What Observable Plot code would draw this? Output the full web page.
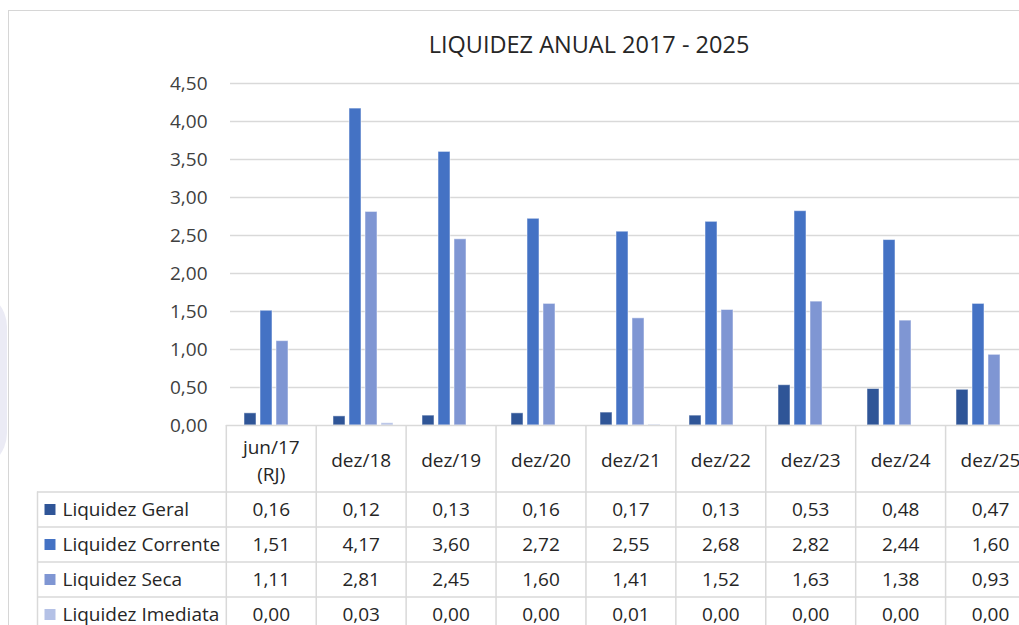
<!DOCTYPE html>
<html><head><meta charset="utf-8">
<script src="https://cdn.jsdelivr.net/npm/d3@7"></script>
<script src="https://cdn.jsdelivr.net/npm/@observablehq/plot@0.6"></script>
<style>
html,body{margin:0;padding:0;background:#fff;overflow:hidden;width:1019px;height:625px;}
body{position:relative;font-family:"Open Sans",sans-serif;}
#deco{position:absolute;left:-30px;top:290px;width:37px;height:180px;border-radius:0 40px 40px 0;background:#ebebf5;}
#frame{position:absolute;left:8px;top:10px;width:1100px;height:700px;border-left:1.5px solid #d6d6d6;border-top:1.5px solid #d6d6d6;}
#title{position:absolute;top:28px;left:0;width:1178px;text-align:center;font-size:23.5px;color:#262626;white-space:nowrap;}
#bars{position:absolute;left:0;top:0;}
#table{position:absolute;left:0;top:425px;}
svg{display:block;overflow:visible;max-width:none !important;}
</style></head><body>
<div id="deco"></div>
<div id="frame"></div>
<div id="title">LIQUIDEZ ANUAL 2017 - 2025</div>
<div id="bars"></div>
<div id="table"></div>
<script>
// ---- data ----
const categories = ["jun/17\n(RJ)","dez/18","dez/19","dez/20","dez/21","dez/22","dez/23","dez/24","dez/25"];
const seriesNames = ["Liquidez Geral","Liquidez Corrente","Liquidez Seca","Liquidez Imediata"];
const liquidezGeral     = [0.16,0.12,0.13,0.16,0.17,0.13,0.53,0.48,0.47];
const liquidezCorrente  = [1.51,4.17,3.60,2.72,2.55,2.68,2.82,2.44,1.60];
const liquidezSeca      = [1.11,2.81,2.45,1.60,1.41,1.52,1.63,1.38,0.93];
const liquidezImediata  = [0.00,0.03,0.00,0.00,0.01,0.00,0.00,0.00,0.00];
const yTicks = [0,0.5,1,1.5,2,2.5,3,3.5,4,4.5];
const seriesColors = ["#2f5597","#4472c4","#7f96d3","#b4c1e6"];

const seriesValues = [liquidezGeral, liquidezCorrente, liquidezSeca, liquidezImediata];
const rows = [];
seriesValues.forEach((vals, si) => vals.forEach((v, ci) =>
  rows.push({category: categories[ci], ci, series: seriesNames[si], si, value: v})));

const fmt = d => d.toFixed(2).replace(".", ",");
const W = 1040, ML = 226, MR = 5;
const gridColor = "#d9d9d9";

// ---- bar chart ----
const bars = Plot.plot({
  width: W, height: 425, marginTop: 83, marginBottom: 0, marginLeft: ML, marginRight: MR,
  style: {fontFamily: "Open Sans", fontSize: "19px", color: "#404040", background: "transparent", overflow: "visible", maxWidth: "none"},
  fx: {domain: categories, padding: 0, axis: null},
  x: {domain: seriesNames, paddingInner: 0.23, paddingOuter: 0.825, axis: null},
  y: {domain: [0, 4.5], axis: null},
  color: {domain: seriesNames, range: seriesColors},
  marks: [
    Plot.gridY(yTicks.filter(d => d > 0), {stroke: gridColor, strokeOpacity: 1, strokeWidth: 1.5}),
    Plot.axisY(yTicks, {tickSize: 0, tickPadding: 23, tickFormat: fmt, fontSize: 19, fill: "#404040", label: null}),
    Plot.barY(rows, {fx: "category", x: "series", y: "value", fill: "series", stroke: "white", strokeOpacity: 0.5, strokeWidth: 1})
  ]
});
document.getElementById("bars").appendChild(bars);

// ---- data table ----
const labelCols = 2.1, headerUnits = 1.9, rowPx = 35, TH = 200;
const nC = categories.length;
const table = Plot.plot({
  width: W, height: TH, marginTop: 0, marginBottom: 0, marginLeft: 37, marginRight: MR,
  style: {fontFamily: "Open Sans", fontSize: "19px", color: "#262626", background: "transparent", overflow: "visible", maxWidth: "none"},
  x: {type: "linear", domain: [-labelCols, nC], axis: null},
  y: {type: "linear", domain: [0, TH / rowPx], range: [0, TH], axis: null},
  color: {domain: seriesNames, range: seriesColors},
  marks: [
    Plot.ruleY([0], {x1: 0, x2: nC, stroke: gridColor, strokeWidth: 1.5}),
    Plot.ruleY(d3.range(seriesNames.length + 1).map(k => headerUnits + k), {x1: -labelCols, x2: nC, stroke: gridColor, strokeWidth: 1.5}),
    Plot.ruleX(d3.range(nC + 1), {y1: 0, y2: TH / rowPx, stroke: gridColor, strokeWidth: 1.5}),
    Plot.ruleX([-labelCols], {y1: headerUnits, y2: TH / rowPx, stroke: gridColor, strokeWidth: 1.5}),
    Plot.text(categories, {x: (d, i) => i + 0.5, y: () => headerUnits / 2, text: d => d, lineHeight: 1.4, fontSize: 19, fill: "#262626"}),
    Plot.text(rows, {x: d => d.ci + 0.5, y: d => headerUnits + d.si + 0.5, text: d => fmt(d.value), fontSize: 19, fill: "#262626"}),
    Plot.dot(seriesNames, {x: () => -labelCols, y: (d, i) => headerUnits + i + 0.5, dx: 12.5, symbol: "square", r: 6.2, fill: d => d, stroke: null}),
    Plot.text(seriesNames, {x: () => -labelCols, y: (d, i) => headerUnits + i + 0.5, dx: 25, textAnchor: "start", text: d => d, fontSize: 19, fill: "#262626"})
  ]
});
document.getElementById("table").appendChild(table);
</script>
</body></html>
